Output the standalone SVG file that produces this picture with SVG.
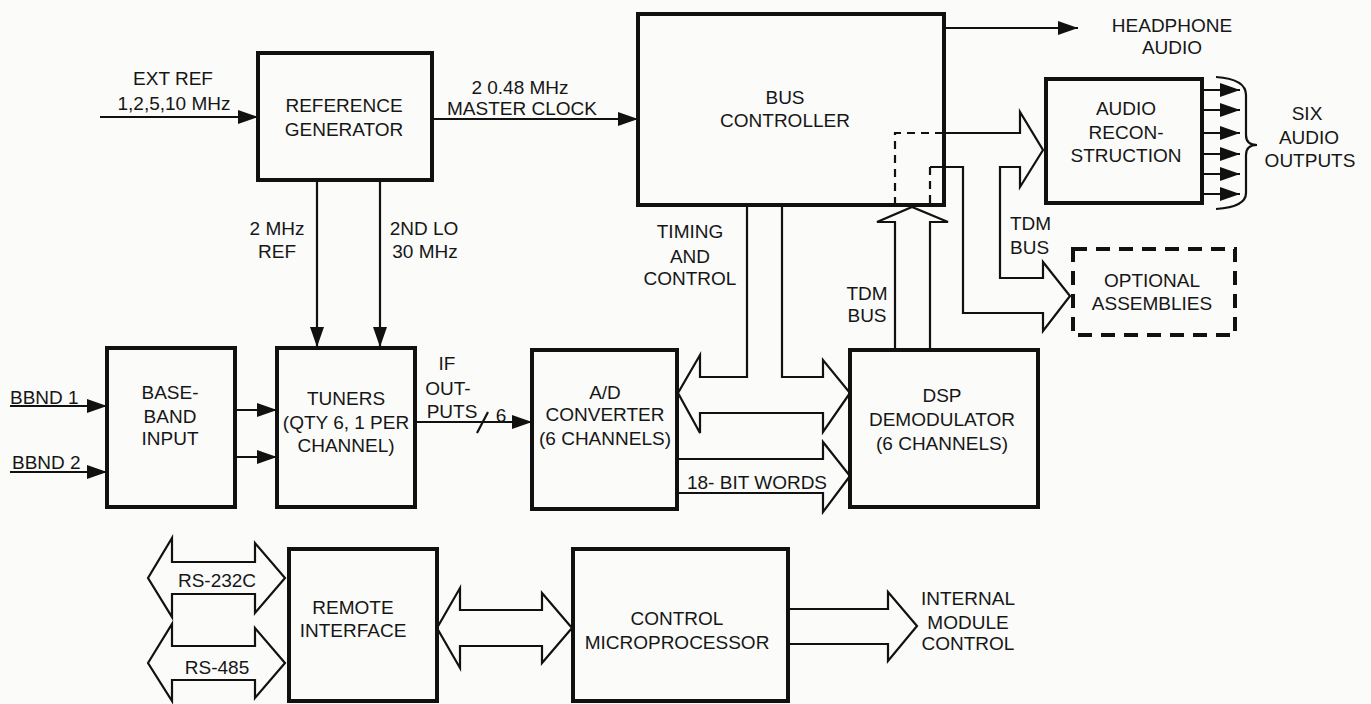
<svg xmlns="http://www.w3.org/2000/svg" width="1371" height="704" viewBox="0 0 1371 704">
<defs>
<style>
.box{fill:none;stroke:#111;stroke-width:4}
.dbox{fill:none;stroke:#111;stroke-width:4;stroke-dasharray:14 9}
.ln{fill:none;stroke:#111;stroke-width:2.2}
.dash{fill:none;stroke:#111;stroke-width:2.2;stroke-dasharray:8 6}
.fat{fill:none;stroke:#111;stroke-width:2.2;stroke-linejoin:miter}
text{font-family:"Liberation Sans",Arial,sans-serif;font-size:19px;text-anchor:middle;fill:#161616}
.l{text-anchor:start}
</style>
<marker id="ah" markerUnits="userSpaceOnUse" markerWidth="20" markerHeight="14" refX="20" refY="7" orient="auto">
<path d="M0,0 L20,7 L0,14 z" fill="#111"/>
</marker>
</defs>
<rect width="1371" height="704" fill="#fbfbfa"/>

<g id="connectors">
<line class="ln" x1="100" y1="117" x2="258" y2="117" marker-end="url(#ah)"/>
<line class="ln" x1="432" y1="119" x2="638" y2="119" marker-end="url(#ah)"/>
<line class="ln" x1="317" y1="180" x2="317" y2="347" marker-end="url(#ah)"/>
<line class="ln" x1="380" y1="180" x2="380" y2="347" marker-end="url(#ah)"/>
<line class="ln" x1="944" y1="28" x2="1078" y2="28" marker-end="url(#ah)"/>
<line class="ln" x1="10" y1="406" x2="107" y2="406" marker-end="url(#ah)"/>
<line class="ln" x1="10" y1="472" x2="107" y2="472" marker-end="url(#ah)"/>
<line class="ln" x1="235" y1="410" x2="277" y2="410" marker-end="url(#ah)"/>
<line class="ln" x1="235" y1="457" x2="277" y2="457" marker-end="url(#ah)"/>
<line class="ln" x1="415" y1="422" x2="532" y2="422" marker-end="url(#ah)"/>
<line class="ln" x1="477" y1="433" x2="488" y2="412"/>
<g>
<line class="ln" x1="1202" y1="90" x2="1240" y2="90" marker-end="url(#ah)"/>
<line class="ln" x1="1202" y1="110" x2="1240" y2="110" marker-end="url(#ah)"/>
<line class="ln" x1="1202" y1="133" x2="1240" y2="133" marker-end="url(#ah)"/>
<line class="ln" x1="1202" y1="154" x2="1240" y2="154" marker-end="url(#ah)"/>
<line class="ln" x1="1202" y1="174" x2="1240" y2="174" marker-end="url(#ah)"/>
<line class="ln" x1="1202" y1="194" x2="1240" y2="194" marker-end="url(#ah)"/>
</g>
<path class="ln" d="M1216,77 Q1246,79 1246,95 L1246,135 Q1246,145 1257,145 Q1246,145 1246,155 L1246,193 Q1246,207 1216,209"/>
<!-- timing/control bus to A/D and DSP -->
<polyline class="fat" points="747,205 747,377 700,377 700,355 678,393 700,433 700,413 823,413 823,432 850,393 823,360 823,377 782,377 782,205"/>
<!-- 18-bit words -->
<polyline class="fat" points="677,459 823,459 823,442 850,476 823,512 823,493 677,493"/>
<!-- TDM bus up -->
<polyline class="fat" points="895,348 895,222 877,222 912,207 948,222 930,222 930,348"/>
<!-- bus to audio reconstruction and optional assemblies -->
<polyline class="fat" points="944,133 1020,133 1020,112 1043,150 1020,187 1020,167 1000,167 1000,278 1043,278 1043,262 1070,296 1043,331 1043,313 963,313 963,167 930,167"/>
<polyline class="dash" points="895,205 895,133 944,133"/>
<line class="dash" x1="930" y1="167" x2="930" y2="205"/>
<!-- RS arrows -->
<polygon class="fat" points="148,578 172,538 172,562 255,562 255,543 285,578 255,613 255,594 172,594 172,617"/>
<polygon class="fat" points="148,663 172,624 172,646 255,646 255,628 285,663 255,698 255,680 172,680 172,701"/>
<polygon class="fat" points="437,628 460,588 460,610 542,610 542,593 572,628 542,663 542,646 460,646 460,668"/>
<polyline class="fat" points="788,609 888,609 888,592 917,626 888,661 888,644 788,644"/>
</g>

<g id="labels">
<text x="173" y="85">EXT REF</text>
<text x="174" y="110">1,2,5,10 MHz</text>
<text x="520" y="94">2 0.48 MHz</text>
<text x="522" y="115">MASTER CLOCK</text>
<text x="1172" y="32">HEADPHONE</text>
<text x="1172" y="54">AUDIO</text>
<text x="1307" y="120">SIX</text>
<text x="1309" y="144">AUDIO</text>
<text x="1310" y="167">OUTPUTS</text>
<text x="277" y="235">2 MHz</text>
<text x="277" y="258">REF</text>
<text x="424" y="235">2ND LO</text>
<text x="425" y="258">30 MHz</text>
<text x="690" y="238">TIMING</text>
<text x="690" y="263">AND</text>
<text x="690" y="285">CONTROL</text>
<text x="867" y="300">TDM</text>
<text x="867" y="322">BUS</text>
<text class="l" x="1010" y="230">TDM</text>
<text class="l" x="1010" y="254">BUS</text>
<text class="l" x="10" y="404" font-size="18">BBND 1</text>
<text class="l" x="12" y="469" font-size="18">BBND 2</text>
<text x="447" y="370">IF</text>
<text x="448" y="395">OUT-</text>
<text x="452" y="418">PUTS</text>
<text x="501" y="422">6</text>
<text x="757" y="489">18- BIT WORDS</text>
<text x="217" y="587">RS-232C</text>
<text x="217" y="674">RS-485</text>
<text x="968" y="605">INTERNAL</text>
<text x="968" y="629">MODULE</text>
<text x="968" y="650">CONTROL</text>
</g>

<g id="refgen">
<rect class="box" x="258" y="53" width="174" height="127"/>
<text x="344" y="112">REFERENCE</text>
<text x="344" y="136">GENERATOR</text>
</g>
<g id="buscontroller">
<rect class="box" x="638" y="14" width="306" height="191"/>
<text x="785" y="104">BUS</text>
<text x="785" y="127">CONTROLLER</text>
</g>
<g id="audiorecon">
<rect class="box" x="1046" y="79" width="156" height="124"/>
<text x="1126" y="115">AUDIO</text>
<text x="1126" y="139">RECON-</text>
<text x="1126" y="162">STRUCTION</text>
</g>
<g id="optional">
<rect class="dbox" x="1073" y="249" width="162" height="86"/>
<text x="1152" y="287">OPTIONAL</text>
<text x="1152" y="310">ASSEMBLIES</text>
</g>
<g id="baseband">
<rect class="box" x="107" y="348" width="128" height="159"/>
<text x="170" y="399">BASE-</text>
<text x="170" y="423">BAND</text>
<text x="170" y="445">INPUT</text>
</g>
<g id="tuners">
<rect class="box" x="277" y="348" width="138" height="159"/>
<text x="346" y="405">TUNERS</text>
<text x="346" y="429">(QTY 6, 1 PER</text>
<text x="346" y="452">CHANNEL)</text>
</g>
<g id="adconverter">
<rect class="box" x="532" y="350" width="145" height="159"/>
<text x="605" y="399">A/D</text>
<text x="605" y="421">CONVERTER</text>
<text x="605" y="445">(6 CHANNELS)</text>
</g>
<g id="dsp">
<rect class="box" x="850" y="350" width="188" height="157"/>
<text x="942" y="402">DSP</text>
<text x="942" y="426">DEMODULATOR</text>
<text x="942" y="450">(6 CHANNELS)</text>
</g>
<g id="remote">
<rect class="box" x="289" y="549" width="148" height="152"/>
<text x="353" y="614">REMOTE</text>
<text x="353" y="637">INTERFACE</text>
</g>
<g id="controlmicro">
<rect class="box" x="573" y="549" width="215" height="152"/>
<text x="677" y="625">CONTROL</text>
<text x="677" y="649">MICROPROCESSOR</text>
</g>
</svg>
